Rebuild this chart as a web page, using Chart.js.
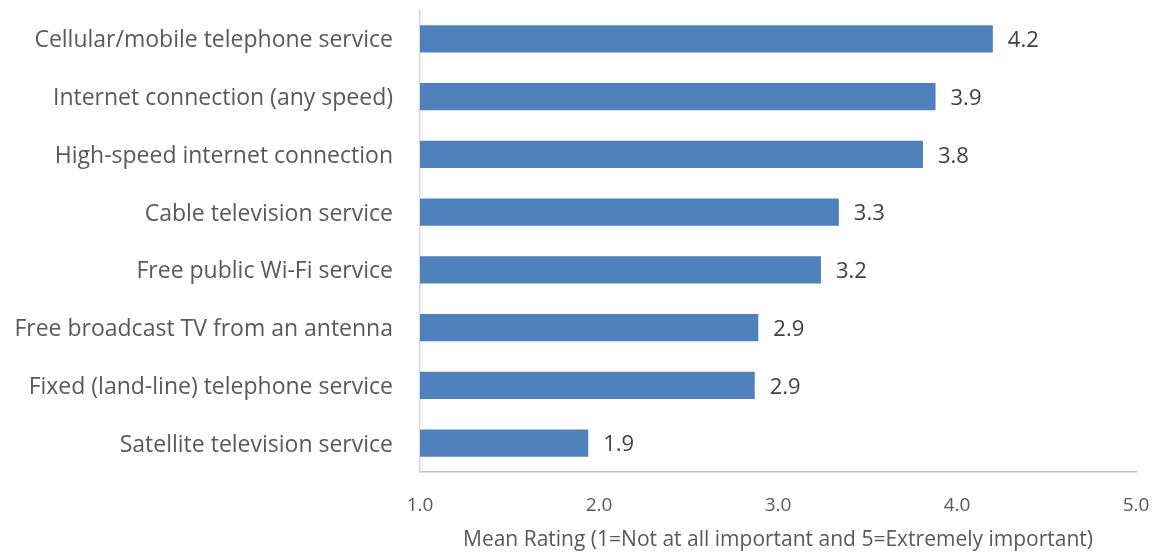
<!DOCTYPE html>
<html>
<head>
<meta charset="utf-8">
<script src="https://cdn.jsdelivr.net/npm/chart.js@4.4.1/dist/chart.umd.min.js"></script>
<style>
  html, body { margin: 0; padding: 0; background: #ffffff; }
  #wrap { width: 1156px; height: 553px; position: relative; }
</style>
</head>
<body>
<div id="wrap"><canvas id="c" width="1156" height="553"></canvas></div>
<script>
const categories = [
  "Cellular/mobile telephone service",
  "Internet connection (any speed)",
  "High-speed internet connection",
  "Cable television service",
  "Free public Wi-Fi service",
  "Free broadcast TV from an antenna",
  "Fixed (land-line) telephone service",
  "Satellite television service"
];
const meanRatings = [4.20, 3.88, 3.81, 3.34, 3.24, 2.89, 2.87, 1.94];
const xTickMin = 1.0;
const xTickMax = 5.0;
const xTitle = "Mean Rating (1=Not at all important and 5=Extremely important)";

const FONT = "'Open Sans', 'Noto Sans', sans-serif";

const valueLabels = {
  id: 'valueLabels',
  afterDatasetsDraw(chart) {
    const ctx = chart.ctx;
    const meta = chart.getDatasetMeta(0);
    ctx.save();
    ctx.font = "22px " + FONT;
    ctx.fillStyle = "#404040";
    ctx.textAlign = "left";
    ctx.textBaseline = "middle";
    meta.data.forEach((bar, i) => {
      ctx.fillText(meanRatings[i].toFixed(1), bar.x + 15, bar.y + 2);
    });
    ctx.restore();
  }
};

new Chart(document.getElementById('c'), {
  type: 'bar',
  data: {
    labels: categories,
    datasets: [{
      data: meanRatings,
      backgroundColor: '#4f81bd',
      borderWidth: 0,
      categoryPercentage: 1.0,
      barPercentage: 0.47,
      base: xTickMin
    }]
  },
  options: {
    indexAxis: 'y',
    responsive: false,
    animation: false,
    devicePixelRatio: 1,
    layout: { padding: { top: 10, right: 20, bottom: 0, left: 0 } },
    plugins: { legend: { display: false }, tooltip: { enabled: false } },
    scales: {
      x: {
        min: xTickMin,
        max: xTickMax,
        ticks: {
          stepSize: 1,
          padding: 22,
          color: '#595959',
          font: { family: FONT, size: 19 },
          callback: (v) => Number(v).toFixed(1)
        },
        grid: { display: false, drawTicks: false },
        border: { display: true, color: '#bfbfbf', width: 1.5 },
        title: {
          display: true,
          text: xTitle,
          color: '#595959',
          font: { family: FONT, size: 21, lineHeight: 1.2 },
          padding: { top: 0, bottom: 0 }
        },
        afterFit(scale) {
          scale.height = 81;
          scale.paddingLeft = 0;
          scale.paddingRight = 0;
        }
      },
      y: {
        ticks: {
          padding: 27,
          labelOffset: 2,
          color: '#595959',
          font: { family: FONT, size: 23 }
        },
        grid: { display: false, drawTicks: false },
        border: { display: true, color: '#d9d9d9', width: 1.5 },
        afterFit(scale) {
          scale.width = 420;
          scale.paddingTop = 0;
          scale.paddingBottom = 0;
        }
      }
    }
  },
  plugins: [valueLabels]
});
</script>
</body>
</html>
